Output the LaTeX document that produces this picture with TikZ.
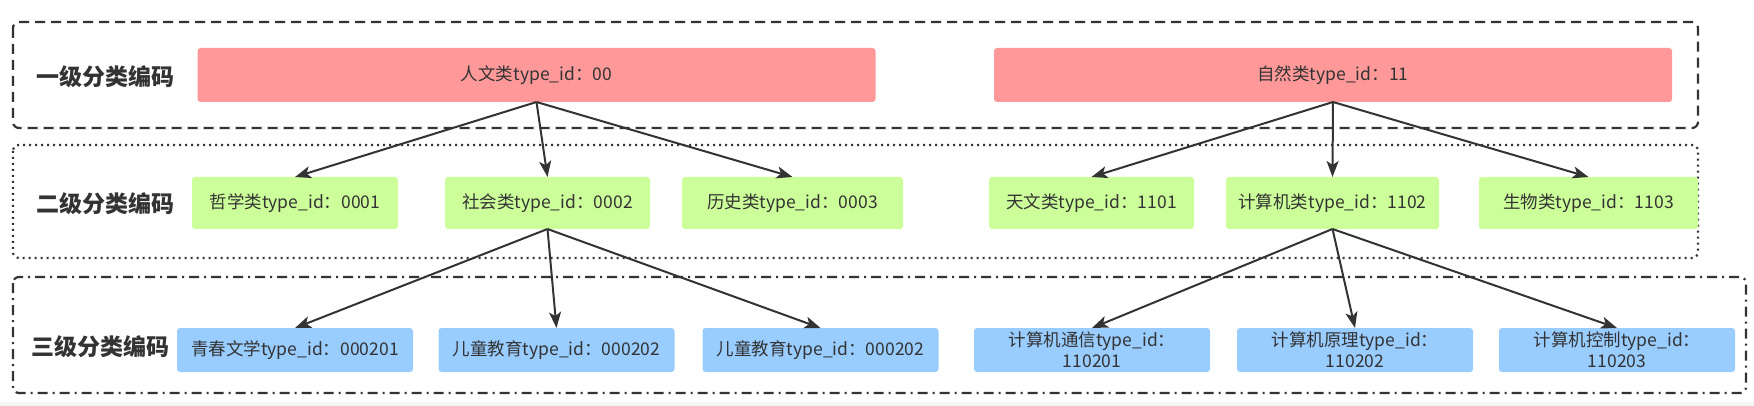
\documentclass[tikz,border=0pt]{standalone}
\usepackage{fontspec}
\setmainfont{Noto Sans CJK SC}
\usetikzlibrary{arrows.meta}
\definecolor{redfill}{HTML}{FF9999}
\definecolor{greenfill}{HTML}{CCFF99}
\definecolor{bluefill}{HTML}{99CCFF}
\definecolor{darkline}{HTML}{333333}

\begin{document}
\begin{tikzpicture}[x=1pt, y=-1pt,
    cat/.style={shape=rectangle, rounded corners=3pt, inner sep=0pt, outer sep=0pt, text=darkline, align=center, font=\fontsize{17.5}{21}\selectfont},
    redbox/.style={cat, fill=redfill, minimum width=678pt, minimum height=54pt},
    greenbox/.style={cat, fill=greenfill, minimum height=52pt},
    bluebox/.style={cat, fill=bluefill, minimum width=236pt, minimum height=44pt},
    tier/.style={text=darkline, inner sep=0pt, font=\fontsize{23}{26}\selectfont\bfseries},
    frame/.style={draw=darkline, line width=2.2pt, rounded corners=6pt},
    arrow/.style={color=darkline, line width=2pt, -{Stealth[length=16pt, width=12pt, inset=4pt]}}]
    \useasboundingbox (0,0) rectangle (1754,406);
    \fill[gray!8] (0,402) rectangle (1754,406);
    % layer frames
    \draw[frame, dash pattern=on 10pt off 6pt] (13,22) rectangle (1698,128);
    \draw[frame, dash pattern=on 2pt off 4pt] (13,145) rectangle (1698,258);
    \draw[frame, dash pattern=on 10pt off 5pt on 2pt off 5pt] (13,277) rectangle (1746,393);
    \node[tier] at (105.5,77) (L1) {一级分类编码};
    \node[tier] at (105.5,204) (L2) {二级分类编码};
    \node[tier] at (100,347) (L3) {三级分类编码};
    % first level
    \node[redbox] at (536.5,75) (A0) {人文类type\_id：00};
    \node[redbox] at (1333,75) (A1) {自然类type\_id：11};
    % second level
    \node[greenbox, minimum width=206pt] at (295,203) (B0) {哲学类type\_id：0001};
    \node[greenbox, minimum width=205pt] at (547.5,203) (B1) {社会类type\_id：0002};
    \node[greenbox, minimum width=221pt] at (792.5,203) (B2) {历史类type\_id：0003};
    \node[greenbox, minimum width=205pt] at (1091.5,203) (B3) {天文类type\_id：1101};
    \node[greenbox, minimum width=213pt] at (1332.5,203) (B4) {计算机类type\_id：1102};
    \node[greenbox, minimum width=219pt] at (1588.5,203) (B5) {生物类type\_id：1103};
    % third level
    \node[bluebox] at (295,350) (C0) {青春文学type\_id：000201};
    \node[bluebox] at (556.5,350) (C1) {儿童教育type\_id：000202};
    \node[bluebox] at (820.5,350) (C2) {儿童教育type\_id：000202};
    \node[bluebox] at (1092,350) (C3) {计算机通信type\_id：\\110201};
    \node[bluebox] at (1355,350) (C4) {计算机原理type\_id：\\110202};
    \node[bluebox] at (1617,350) (C5) {计算机控制type\_id：\\110203};
    % arrows
    \path [arrow] (A0.south) edge (B0.north);
    \path [arrow] (A0.south) edge (B1.north);
    \path [arrow] (A0.south) edge (B2.north);
    \path [arrow] (A1.south) edge (B3.north);
    \path [arrow] (A1.south) edge (B4.north);
    \path [arrow] (A1.south) edge (B5.north);
    \path [arrow] (B1.south) edge (C0.north);
    \path [arrow] (B1.south) edge (C1.north);
    \path [arrow] (B1.south) edge (C2.north);
    \path [arrow] (B4.south) edge (C3.north);
    \path [arrow] (B4.south) edge (C4.north);
    \path [arrow] (B4.south) edge (C5.north);
\end{tikzpicture}
\end{document}
